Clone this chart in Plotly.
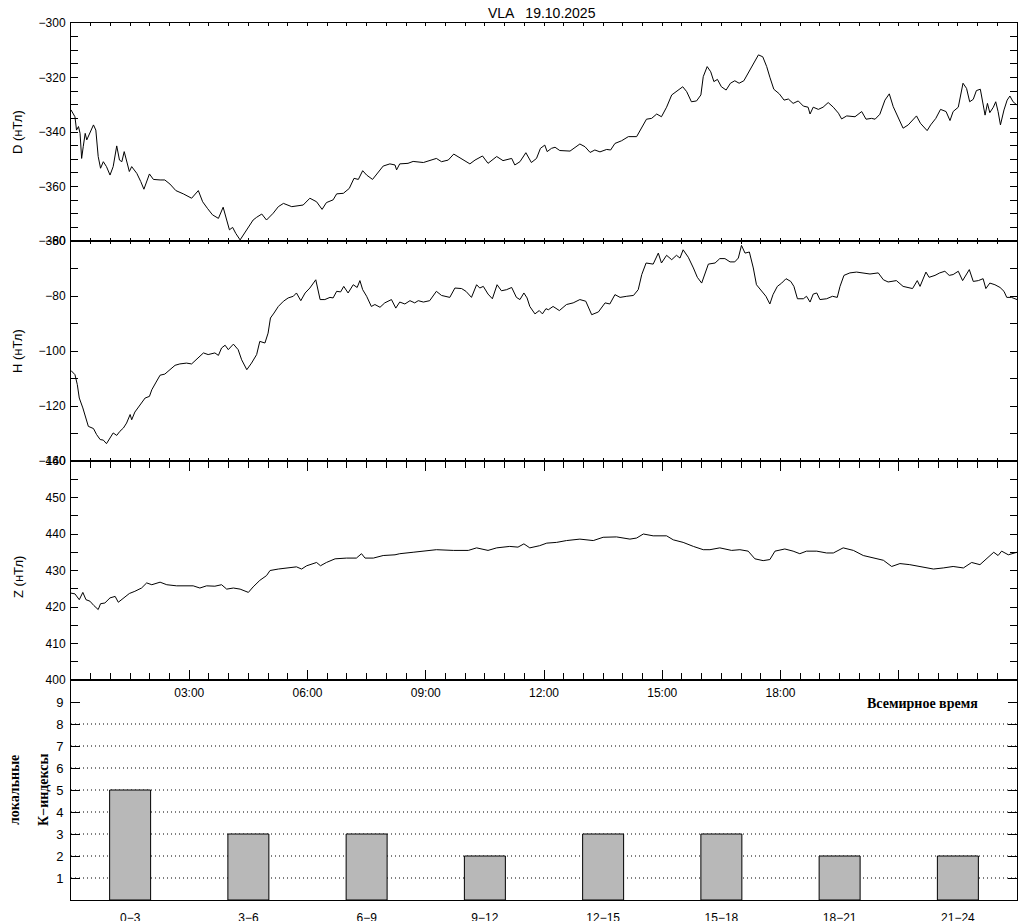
import plotly.graph_objects as go

# ---------------- data (hours UT, nT) ----------------
D_HOURS = [0.0, 0.1, 0.14, 0.19, 0.23, 0.27, 0.31, 0.36, 0.4, 0.48, 0.57, 0.63, 0.69, 0.75, 0.82, 0.9, 0.99,
           1.07, 1.16, 1.23, 1.29, 1.35, 1.41, 1.48, 1.54, 1.67, 1.77, 1.85, 1.99, 2.09, 2.26, 2.38, 2.51,
           2.66, 2.85, 3.06, 3.23, 3.34, 3.46, 3.59, 3.74, 3.86, 3.95, 4.02, 4.1, 4.18, 4.29, 4.37, 4.5,
           4.62, 4.71, 4.84, 4.96, 5.13, 5.26, 5.39, 5.6, 5.81, 5.89, 6.06, 6.23, 6.37, 6.48, 6.65, 6.74,
           6.91, 7.06, 7.18, 7.29, 7.4, 7.5, 7.65, 7.92, 8.09, 8.22, 8.26, 8.34, 8.55, 8.68, 8.94, 9.1,
           9.27, 9.4, 9.57, 9.71, 9.91, 10.12, 10.25, 10.44, 10.58, 10.8, 10.96, 11.18, 11.26, 11.39,
           11.54, 11.68, 11.81, 11.91, 12.02, 12.08, 12.19, 12.28, 12.4, 12.66, 12.91, 13.04, 13.17,
           13.29, 13.42, 13.59, 13.69, 13.8, 13.97, 14.14, 14.35, 14.45, 14.6, 14.73, 14.86, 14.98,
           15.11, 15.24, 15.36, 15.43, 15.52, 15.62, 15.74, 15.87, 15.98, 16.04, 16.14, 16.23, 16.31,
           16.4, 16.5, 16.62, 16.73, 16.84, 16.95, 17.07, 17.18, 17.31, 17.44, 17.55, 17.65, 17.73,
           17.83, 17.97, 18.09, 18.2, 18.32, 18.45, 18.58, 18.7, 18.75, 18.83, 18.96, 19.08, 19.21,
           19.34, 19.47, 19.55, 19.68, 19.89, 20.06, 20.17, 20.31, 20.4, 20.52, 20.65, 20.76, 20.86,
           20.99, 21.11, 21.24, 21.35, 21.45, 21.55, 21.62, 21.72, 21.81, 21.94, 22.06, 22.2, 22.3,
           22.38, 22.51, 22.63, 22.72, 22.8, 22.89, 22.97, 23.07, 23.14, 23.19, 23.25, 23.31, 23.4,
           23.46, 23.52, 23.58, 23.67, 23.75, 23.82, 23.9, 24.0]
D_VALUES = [-331.9, -334.4, -339.3, -338, -340.5, -349.7, -345.4, -340.5, -342.9, -340.5, -337.4, -339.3,
            -349, -353.3, -350.9, -352.7, -355.8, -352.7, -345.1, -350.3, -350.9, -347.2, -350.3, -354.5,
            -352.7, -355.2, -358.2, -361, -355.4, -357.4, -357.6, -357.6, -359.1, -361.5, -362.7, -364.3,
            -361.5, -365.6, -368, -370.4, -371.7, -367.6, -372.3, -375.9, -375, -377.2, -379.6, -377.8,
            -374.7, -372.3, -371.3, -370.1, -372.3, -369.8, -367.4, -366.2, -367.4, -366.8, -366.8,
            -364.3, -365.6, -368.4, -365.9, -364.9, -362.7, -362.5, -360.7, -357, -357.4, -354.2,
            -355.8, -357.4, -352.5, -351.7, -352.1, -353.9, -351.7, -351.5, -350.8, -351.2, -350.5,
            -349.7, -350.9, -350.3, -348.1, -350, -351.7, -350.3, -348.8, -351.5, -349, -350.5, -349.7,
            -352.1, -350.9, -347.6, -351.2, -349.7, -346, -344.8, -347.2, -346, -345.6, -346.8, -347,
            -344.4, -345.4, -347.5, -346.6, -347.3, -346.4, -346.6, -344.2, -343.2, -341.7, -341.7,
            -339, -335.3, -335, -333.4, -334.4, -330.9, -326.4, -325.2, -324.6, -323.4, -325.2, -328.9,
            -328.6, -326.4, -319.7, -316, -317.9, -321.5, -320.7, -323.4, -324.6, -322.1, -321.2,
            -322.1, -321.2, -318.5, -315.4, -311.7, -312.4, -316, -319.9, -324.3, -326, -328.3, -327.9,
            -329.5, -328.6, -330.5, -330.9, -333.4, -330.9, -331.7, -330.9, -329.2, -330.9, -333.1,
            -335.2, -334.1, -334.4, -332.5, -335.3, -335, -335.3, -333.5, -328.3, -326, -330.7, -335,
            -338.6, -337.4, -335.6, -334.1, -336.8, -338, -339.5, -337.4, -335, -331.7, -332.5, -335.8,
            -332.5, -330.9, -322.1, -324, -328.9, -328, -324.8, -324.3, -329.5, -333.8, -329.5, -332.9,
            -330.9, -328.9, -332.5, -337.4, -331.9, -328.3, -326.8, -328.9, -330.1]

H_HOURS = [0.0, 0.1, 0.16, 0.21, 0.3, 0.38, 0.44, 0.57, 0.65, 0.74, 0.82, 0.9, 0.97, 1.07, 1.16, 1.24,
           1.33, 1.41, 1.5, 1.54, 1.62, 1.75, 1.88, 1.99, 2.05, 2.16, 2.26, 2.38, 2.51, 2.64, 2.76, 2.93,
           3.06, 3.23, 3.36, 3.48, 3.65, 3.74, 3.82, 3.91, 3.99, 4.12, 4.24, 4.33, 4.46, 4.58, 4.71,
           4.79, 4.92, 5.0, 5.06, 5.15, 5.26, 5.39, 5.51, 5.64, 5.72, 5.83, 5.94, 6.06, 6.21, 6.32,
           6.44, 6.57, 6.65, 6.74, 6.84, 6.92, 7.03, 7.16, 7.26, 7.33, 7.4, 7.5, 7.62, 7.71, 7.84,
           7.96, 8.13, 8.24, 8.34, 8.47, 8.6, 8.72, 8.81, 8.94, 9.1, 9.27, 9.4, 9.61, 9.74, 9.91,
           10.02, 10.16, 10.29, 10.37, 10.46, 10.58, 10.69, 10.81, 10.92, 11.05, 11.18, 11.3, 11.39,
           11.49, 11.57, 11.64, 11.77, 11.88, 11.96, 12.05, 12.11, 12.23, 12.39, 12.57, 12.74,
           12.91, 13.06, 13.21, 13.38, 13.55, 13.67, 13.8, 13.93, 14.1, 14.27, 14.39, 14.48, 14.59,
           14.77, 14.9, 14.98, 15.11, 15.24, 15.36, 15.45, 15.53, 15.66, 15.79, 15.89, 16.0, 16.08,
           16.17, 16.34, 16.46, 16.59, 16.72, 16.84, 16.93, 17.01, 17.1, 17.21, 17.31, 17.39, 17.52,
           17.63, 17.73, 17.81, 17.92, 18.03, 18.14, 18.26, 18.34, 18.43, 18.58, 18.66, 18.75, 18.83,
           18.92, 19.0, 19.17, 19.32, 19.44, 19.51, 19.61, 19.76, 19.93, 20.1, 20.27, 20.48, 20.61,
           20.73, 20.94, 21.11, 21.24, 21.35, 21.47, 21.54, 21.69, 21.77, 21.92, 22.04, 22.17, 22.28,
           22.38, 22.51, 22.62, 22.79, 22.89, 23.02, 23.14, 23.21, 23.31, 23.44, 23.57, 23.67, 23.74,
           23.86, 24.0]
H_VALUES = [-107.1, -108.6, -112.2, -117.1, -120.7, -124.4, -127.4, -128.2, -130.4, -132.2, -132.4,
            -133.7, -132.2, -129.8, -130.7, -129.2, -128, -126.2, -123.1, -125, -122.2, -119.5, -117.1,
            -116.5, -114.1, -111.3, -108.8, -108.4, -106.8, -105.2, -104.7, -104.4, -104.7, -102.3,
            -100.7, -101.3, -100.7, -101.6, -98.9, -97.9, -99.5, -97.5, -99.5, -103.2, -106.8, -104.4,
            -101.3, -96.5, -97.1, -93.5, -88, -86.2, -83.8, -81.9, -80.7, -80.1, -78.9, -81.7, -78.9,
            -77.1, -74.1, -81.3, -81.3, -80.5, -80.7, -78.3, -78.5, -76.5, -78.9, -75.9, -76.9, -74.4,
            -77.7, -80.1, -83.8, -83.1, -84.1, -82.5, -81.3, -84.4, -82.2, -82.9, -81.7, -82.5, -81.7,
            -82.2, -81.7, -78.3, -79.8, -80.5, -77.1, -77.3, -78.3, -80.5, -75.9, -77.1, -76.5, -79.3,
            -81, -75.9, -78.1, -77.7, -76.9, -80.5, -81.3, -78.9, -80.7, -83.8, -86.5, -85.3, -86.5,
            -84.6, -85, -83.8, -85.3, -83.1, -82.5, -81.3, -81.9, -86.8, -85.8, -82.5, -82.9, -79.5,
            -80.5, -80.1, -79.8, -77.7, -72.2, -68, -68.4, -64.4, -68, -65.2, -66.8, -65.2, -66.2,
            -63.2, -65.9, -69.8, -73.2, -75.3, -72.2, -68.4, -68, -66.4, -66.4, -67.6, -67.6, -66.2,
            -61.6, -64.4, -64, -69.8, -75.9, -78.3, -80.1, -82.9, -79.5, -76.5, -75.3, -73.7, -74.7,
            -76.5, -81, -81, -80.1, -82.2, -79.3, -78.9, -81.3, -81, -80.1, -80.5, -76.5, -72.5, -71.6,
            -71.3, -71.6, -72, -71.6, -74.1, -74.9, -74.4, -76.5, -76.9, -77.3, -74.4, -76.5, -71.3,
            -73.2, -72.5, -71.6, -71, -72.5, -72.2, -71, -74.4, -70.4, -74.7, -74.4, -73.7, -77.3,
            -75.3, -75.9, -76.9, -78.3, -80.5, -80.5, -81.3]

Z_HOURS = [0.0, 0.1, 0.21, 0.3, 0.38, 0.48, 0.58, 0.69, 0.75, 0.86, 0.99, 1.12, 1.2, 1.33, 1.48, 1.62,
           1.79, 1.92, 2.05, 2.26, 2.43, 2.68, 2.93, 3.1, 3.27, 3.44, 3.65, 3.82, 3.95, 4.12, 4.29,
           4.5, 4.62, 4.79, 4.96, 5.05, 5.26, 5.55, 5.72, 5.85, 5.98, 6.23, 6.33, 6.48, 6.7, 6.99,
           7.24, 7.37, 7.46, 7.67, 7.92, 8.22, 8.34, 8.68, 9.02, 9.27, 9.7, 10.08, 10.29, 10.58, 10.8,
           11.13, 11.34, 11.49, 11.64, 11.89, 12.07, 12.32, 12.57, 12.91, 13.25, 13.5, 13.84, 14.18,
           14.35, 14.52, 14.77, 15.11, 15.28, 15.53, 15.79, 16.04, 16.21, 16.46, 16.76, 16.97, 17.18,
           17.35, 17.56, 17.73, 17.86, 18.11, 18.32, 18.49, 18.66, 18.92, 19.17, 19.34, 19.59, 19.85,
           20.1, 20.35, 20.61, 20.82, 21.03, 21.28, 21.54, 21.88, 22.13, 22.38, 22.64, 22.85, 23.06,
           23.23, 23.41, 23.52, 23.61, 23.78, 24.0]
Z_VALUES = [423.8, 423.6, 422, 424, 422, 421.6, 420.4, 419.3, 420.9, 421.1, 422.5, 422.9, 421.3, 422.5,
            423.7, 424.3, 425.2, 426.6, 426.1, 426.8, 426.1, 425.8, 425.7, 425.8, 425.2, 425.8, 425.7,
            426.1, 424.9, 425.2, 424.9, 424, 425.5, 427.3, 428.6, 430, 430.4, 430.7, 431, 430.4, 431.3,
            432.2, 431.3, 432.2, 433.2, 433.4, 433.4, 434.6, 433.4, 433.4, 434.1, 434.3, 434.6, 435,
            435.3, 435.7, 435.5, 435.5, 436.2, 435.5, 436.2, 436.6, 436.4, 437.3, 436.2, 436.8, 437.5,
            437.7, 438.2, 438.6, 438.2, 439.1, 439.2, 438.6, 438.9, 440, 439.5, 439.5, 438.4, 437.7,
            436.6, 435.7, 435.7, 436.2, 435.5, 435.7, 435.3, 433.2, 432.7, 433, 435.3, 435.9, 435.3,
            434.6, 435.3, 435.3, 434.8, 434.8, 436.2, 435.5, 434.1, 433.4, 432.8, 431.1, 431.9, 431.6,
            431, 430.4, 430.7, 431.1, 430.7, 432.2, 431.6, 433.2, 435, 434.1, 435.3, 434.3, 435]

K_INTERVALS = [(0, 3), (3, 6), (6, 9), (9, 12), (12, 15), (15, 18), (18, 21), (21, 24)]
K_VALUES = [5, 3, 3, 2, 3, 3, 2, 2]
K_GRID_LEVELS = [1, 2, 3, 4, 5, 6, 7, 8]

TIME_TICKS = [0, 3, 6, 9, 12, 15, 18, 21, 24]
TIME_LABELS = ["", "03:00", "06:00", "09:00", "12:00", "15:00", "18:00", "", ""]

TITLE = "VLA   19.10.2025"

# ---------------- layout helpers ----------------
W, HGT = 1024, 921
FONT = "Liberation Sans"
SERIF = "Liberation Serif"


def fx(p):
    return p / W


def fy(p):
    return (HGT - p) / HGT


XDOM = [fx(71), fx(1017)]
PANELS = {"D": (23, 241), "H": (241, 461), "Z": (461, 680), "K": (680, 900)}

fig = go.Figure()

line_style = dict(color="black", width=1)
fig.add_trace(go.Scatter(x=D_HOURS, y=D_VALUES, mode="lines", line=line_style, xaxis="x", yaxis="y",
                         showlegend=False, hoverinfo="skip"))
fig.add_trace(go.Scatter(x=H_HOURS, y=H_VALUES, mode="lines", line=line_style, xaxis="x2", yaxis="y2",
                         showlegend=False, hoverinfo="skip"))
fig.add_trace(go.Scatter(x=Z_HOURS, y=Z_VALUES, mode="lines", line=line_style, xaxis="x3", yaxis="y3",
                         showlegend=False, hoverinfo="skip"))

k_centers = [(a + b) / 2 for a, b in K_INTERVALS]
k_labels = [f"{a}\u2212{b}" for a, b in K_INTERVALS]
fig.add_trace(go.Bar(x=k_centers, y=K_VALUES, width=1.04, xaxis="x4", yaxis="y4",
                     marker=dict(color="#b8b8b8", line=dict(color="black", width=1)),
                     showlegend=False, hoverinfo="skip"))

tickfont = dict(family=FONT, size=12, color="black")


def time_axis(anchor, ticklen, minorlen, labels=False):
    return dict(
        domain=XDOM, anchor=anchor, range=[0, 24], showline=True, linecolor="black", linewidth=1,
        mirror="allticks", ticks="inside", ticklen=ticklen, tickcolor="black", tickwidth=1,
        tickmode="array", tickvals=TIME_TICKS, ticktext=TIME_LABELS if labels else [""] * len(TIME_TICKS),
        showticklabels=labels, tickfont=tickfont, ticklabelstandoff=2, automargin=False,
        minor=dict(ticks="inside", dtick=0.5, tick0=0, ticklen=minorlen, tickcolor="black", tickwidth=1),
        showgrid=False, zeroline=False, fixedrange=True,
    )


def value_axis(anchor, panel, rng, dtick, minor_dtick):
    top, bot = PANELS[panel]
    return dict(
        domain=[fy(bot), fy(top)], anchor=anchor, range=rng, showline=True, linecolor="black", linewidth=1,
        mirror="allticks", ticks="inside", ticklen=7, tickcolor="black", tickwidth=1,
        tick0=rng[0], dtick=dtick, tickfont=tickfont, ticklabelstandoff=2, automargin=False,
        minor=dict(ticks="inside", dtick=minor_dtick, tick0=rng[0], ticklen=7, tickcolor="black", tickwidth=1),
        showgrid=False, zeroline=False, fixedrange=True,
    )


layout = dict(
    width=W, height=HGT, margin=dict(l=0, r=0, t=0, b=0, pad=0, autoexpand=False), autosize=False,
    paper_bgcolor="white", plot_bgcolor="white", font=dict(family=FONT, size=12, color="black"),
    xaxis=time_axis("y", 5, 3),
    xaxis2=time_axis("y2", 5, 3),
    xaxis3=time_axis("y3", 10, 7, labels=True),
    yaxis=value_axis("x", "D", [-380, -300], 20, 5),
    yaxis2=value_axis("x2", "H", [-140, -60], 20, 10),
    yaxis3=value_axis("x3", "Z", [400, 460], 10, 5),
    xaxis4=dict(domain=XDOM, anchor="y4", range=[0, 24], showline=True, linecolor="black", linewidth=1,
                mirror=True, ticks="", tickmode="array", tickvals=k_centers, ticktext=k_labels,
                tickfont=tickfont, ticklabelstandoff=7, automargin=False,
                showgrid=False, zeroline=False, fixedrange=True),
    yaxis4=dict(domain=[fy(PANELS["K"][1]), fy(PANELS["K"][0])], anchor="x4", range=[0, 10],
                showline=True, linecolor="black", linewidth=1, mirror="allticks", ticks="inside",
                ticklen=9, tickcolor="black", tickmode="array", tickvals=list(range(1, 10)),
                tickfont=dict(family=FONT, size=13, color="black"), ticklabelstandoff=4, automargin=False,
                showgrid=False, zeroline=False, fixedrange=True),
    bargap=0,
)
fig.update_layout(**layout)

# dotted K-index grid lines
for lvl in K_GRID_LEVELS:
    fig.add_shape(type="line", xref="x4 domain", yref="y4", x0=0, x1=1, y0=lvl, y1=lvl,
                  line=dict(color="black", width=1, dash="1px,3px"), layer="below")

ann = []
ann.append(dict(text=TITLE, x=fx(542), y=fy(13), xref="paper", yref="paper", showarrow=False,
                xanchor="center", yanchor="middle", font=dict(family=FONT, size=14, color="black")))
for txt, cy in [("D (нТл)", 132), ("H (нТл)", 351), ("Z (нТл)", 577)]:
    ann.append(dict(text=txt, x=fx(18), y=fy(cy), xref="paper", yref="paper", showarrow=False,
                    textangle=-90, xanchor="center", yanchor="middle",
                    font=dict(family=FONT, size=13, color="black")))
ann.append(dict(text="Склонение", x=fx(-5), y=fy(125), xref="paper", yref="paper", showarrow=False,
                textangle=-90, xanchor="center", yanchor="middle",
                font=dict(family=FONT, size=12, color="black")))
for txt, cx in [("локальные", 15), ("К\u2212индексы", 44)]:
    ann.append(dict(text=txt, x=fx(cx), y=fy(790), xref="paper", yref="paper", showarrow=False,
                    textangle=-90, xanchor="center", yanchor="middle",
                    font=dict(family=SERIF, size=14, color="black", weight="bold")))
ann.append(dict(text="Всемирное время", x=fx(922), y=fy(703), xref="paper", yref="paper", showarrow=False,
                xanchor="center", yanchor="middle",
                font=dict(family=SERIF, size=14, color="black", weight="bold")))
fig.update_layout(annotations=ann)

fig.write_html("out.html", config={"displayModeBar": False, "staticPlot": True},
               post_script="document.body.style.margin='0';document.body.style.overflow='hidden';")
